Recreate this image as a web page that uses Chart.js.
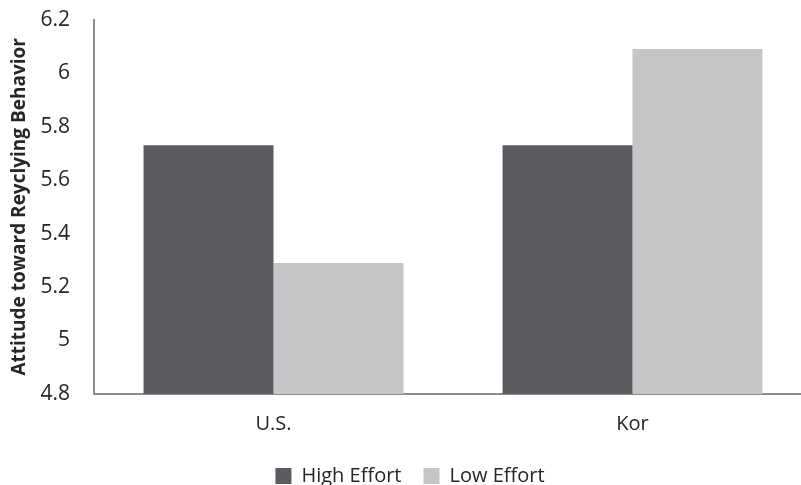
<!DOCTYPE html>
<html>
<head>
<meta charset="utf-8">
<script src="https://cdn.jsdelivr.net/npm/chart.js@4/dist/chart.umd.min.js"></script>
<style>
  html, body { margin: 0; padding: 0; background: #fff; overflow: hidden; }
  #wrap { width: 812px; height: 523px; position: relative; top: -17px; }
</style>
</head>
<body>
<div id="wrap"><canvas id="chart"></canvas></div>
<script>
// Mean attitude scores by country and effort condition
const countries = ['U.S.', 'Kor'];
const highEffort = [5.73, 5.73];
const lowEffort = [5.29, 6.09];
const seriesNames = ['High Effort', 'Low Effort'];
const yTicks = [4.8, 5, 5.2, 5.4, 5.6, 5.8, 6, 6.2];

const textColor = '#262626';
const axisColor = '#8c8c8c';
const font = 'Open Sans';

// Pull the legend row a little closer to the category labels
const legendLift = {
  id: 'legendLift',
  afterLayout(chart) {
    if (chart.legend) {
      chart.legend.top -= 10;
      chart.legend.bottom -= 10;
    }
  }
};

new Chart(document.getElementById('chart'), {
  type: 'bar',
  data: {
    labels: countries,
    datasets: [
      { label: seriesNames[0], data: highEffort, backgroundColor: '#5b5c60', borderWidth: 0 },
      { label: seriesNames[1], data: lowEffort, backgroundColor: '#c4c5c7', borderWidth: 0 }
    ]
  },
  plugins: [legendLift],
  options: {
    responsive: true,
    maintainAspectRatio: false,
    animation: false,
    events: [],
    layout: { padding: { top: 0, left: 8, right: 0, bottom: 0 } },
    datasets: { bar: { categoryPercentage: 0.724, barPercentage: 1.0 } },
    plugins: {
      tooltip: { enabled: false },
      legend: {
        position: 'bottom',
        labels: {
          color: textColor,
          font: { family: font, size: 20 },
          boxWidth: 16,
          boxHeight: 16,
          padding: 22,
          useBorderRadius: false
        }
      }
    },
    scales: {
      x: {
        grid: { display: false, drawTicks: false },
        border: { display: true, color: axisColor, width: 2 },
        ticks: { color: textColor, font: { family: font, size: 20 }, padding: 18 }
      },
      y: {
        min: 4.8,
        max: 6.2,
        afterBuildTicks: (axis) => { axis.ticks = yTicks.map(v => ({ value: v })); },
        afterFit: (axis) => { axis.width = 86; },
        grid: { display: false, drawTicks: false },
        border: { display: true, color: axisColor, width: 2 },
        ticks: {
          color: textColor,
          font: { family: font, size: 21 },
          padding: 24,
          callback: (v) => String(Math.round(v * 10) / 10)
        },
        title: {
          display: true,
          text: 'Attitude toward Reyclying Behavior',
          color: textColor,
          font: { family: font, size: 19, weight: 'bold' },
          padding: { top: 0, bottom: 0 }
        }
      }
    }
  }
});
</script>
</body>
</html>
